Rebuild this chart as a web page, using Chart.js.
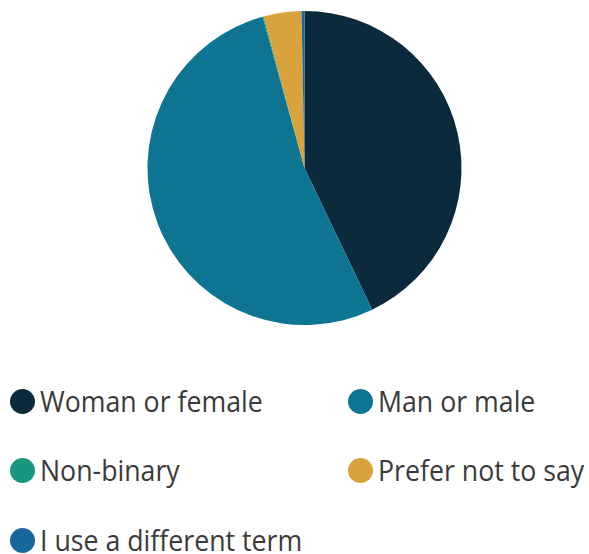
<!DOCTYPE html>
<html><head><meta charset="utf-8">
<script src="https://cdn.jsdelivr.net/npm/chart.js@4/dist/chart.umd.min.js"></script>
<style>
html,body{margin:0;padding:0;background:#fff;width:589px;height:554px;overflow:hidden;font-family:"Open Sans",sans-serif;}
#wrap{position:absolute;left:0;top:0;width:589px;height:336px;}
.leg{position:absolute;display:flex;align-items:center;font-size:30px;line-height:40px;color:#3a3a3a;white-space:nowrap;}
.dot{width:25px;height:25px;border-radius:50%;margin-right:5px;flex:none;}
.txt{display:inline-block;transform:scaleX(0.89);transform-origin:0 50%;}
</style></head><body>
<div id="wrap"><canvas id="c"></canvas></div>
<div id="legend"></div>
<script>
const categories = ["Woman or female","Man or male","Non-binary","Prefer not to say","I use a different term"];
const values = [42.9, 52.8, 0.1, 3.9, 0.3];
const colors = ["#0b2b3d","#0d7592","#17977f","#d9a23c","#17679a"];

new Chart(document.getElementById('c'), {
  type: 'pie',
  data: { labels: categories, datasets: [{ data: values, backgroundColor: colors, borderWidth: 0 }] },
  options: {
    responsive: true, maintainAspectRatio: false, animation: false,
    layout: { padding: { left: 20, right: 0, top: 11, bottom: 11 } },
    plugins: { legend: { display: false }, tooltip: { enabled: false } }
  }
});

const pos = [[10,401],[348,401],[10,470],[348,470],[10,540]];
const leg = document.getElementById('legend');
categories.forEach((c,i)=>{
  const d = document.createElement('div');
  d.className='leg';
  d.style.left = pos[i][0]+'px';
  d.style.top = (pos[i][1]-20)+'px';
  d.style.height='40px';
  d.innerHTML = '<span class="dot" style="background:'+colors[i]+'"></span><span class="txt"></span>';
  d.lastChild.textContent = c;
  leg.appendChild(d);
});
</script>
</body></html>
